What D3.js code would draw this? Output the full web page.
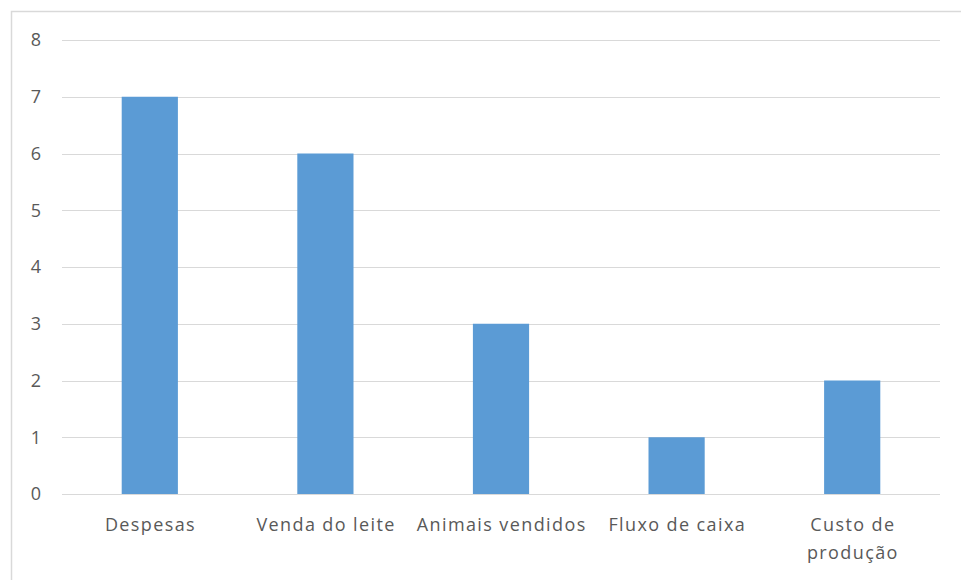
<!DOCTYPE html>
<html>
<head>
<meta charset="utf-8">
<script src="https://cdn.jsdelivr.net/npm/d3@7"></script>
<style>
  html, body { margin: 0; padding: 0; background: #fff; }
  svg { display: block; }
</style>
</head>
<body>
<svg id="chart" width="961" height="580"></svg>
<script>
// Categories and their values
const categories = ["Despesas", "Venda do leite", "Animais vendidos", "Fluxo de caixa", "Custo de produção"];
const values = [7, 6, 3, 1, 2];
const yTicks = [0, 1, 2, 3, 4, 5, 6, 7, 8];

const svg = d3.select("#chart");
const W = 961, H = 580;
const margin = { left: 62, right: 21, top: 40, bottom: 86 };
const FONT = "'Open Sans', sans-serif";

// Outer chart frame
svg.append("rect")
  .attr("x", 11.5).attr("y", 11.5)
  .attr("width", W).attr("height", H)
  .attr("fill", "#fff")
  .attr("stroke", "#d9d9d9")
  .attr("stroke-width", 1.5);

const x = d3.scaleBand()
  .domain(categories)
  .range([margin.left, W - margin.right])
  .paddingInner(0.68)
  .paddingOuter(0.34);

const y = d3.scaleLinear()
  .domain([0, 8])
  .range([H - margin.bottom, margin.top]);

// Horizontal gridlines
svg.append("g")
  .selectAll("line")
  .data(yTicks)
  .join("line")
  .attr("x1", margin.left)
  .attr("x2", W - margin.right)
  .attr("y1", d => Math.round(y(d)) + 0.5)
  .attr("y2", d => Math.round(y(d)) + 0.5)
  .attr("stroke", "#d9d9d9")
  .attr("stroke-width", 1);

// Y axis labels
const yAxis = d3.axisLeft(y).tickValues(yTicks).tickSize(0).tickPadding(0).tickFormat(d3.format("d"));
const gy = svg.append("g")
  .attr("transform", `translate(${margin.left - 21},0)`)
  .call(yAxis);
gy.select(".domain").remove();
gy.selectAll("text")
  .attr("font-family", FONT)
  .attr("font-size", 18)
  .attr("fill", "#595959");

// Bars
svg.append("g")
  .selectAll("rect")
  .data(categories.map((c, i) => ({ c, v: values[i] })))
  .join("rect")
  .attr("x", d => x(d.c))
  .attr("width", x.bandwidth())
  .attr("y", d => y(d.v))
  .attr("height", d => y(0) - y(d.v))
  .attr("fill", "#5b9bd5");

// Category labels (wrapped where the original breaks them)
const labelLines = {
  "Custo de produção": ["Custo de", "produção"]
};
const xAxis = svg.append("g");
categories.forEach(c => {
  const lines = labelLines[c] || [c];
  const cx = x(c) + x.bandwidth() / 2 + 0.7;
  const t = xAxis.append("text")
    .attr("x", cx)
    .attr("y", 531)
    .attr("text-anchor", "middle")
    .attr("font-family", FONT)
    .attr("font-size", 18)
    .attr("letter-spacing", 1.4)
    .attr("fill", "#595959");
  lines.forEach((l, i) => {
    t.append("tspan")
      .attr("x", cx)
      .attr("dy", i === 0 ? 0 : 28)
      .text(l);
  });
});
</script>
</body>
</html>
